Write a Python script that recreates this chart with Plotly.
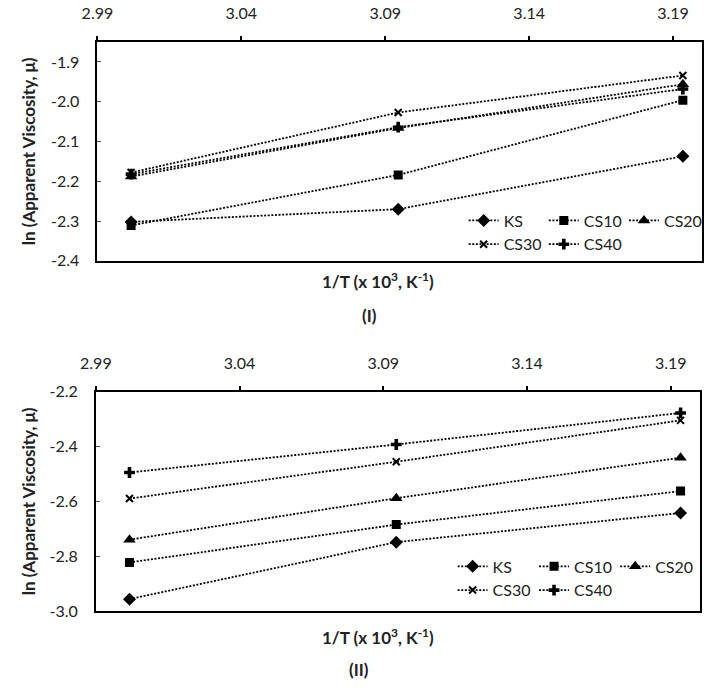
import plotly.graph_objects as go

# ---- data ----
x_vals = [3.0017, 3.0945, 3.1934]          # 1/T (x10^3, K^-1)
series_names = ["KS", "CS10", "CS20", "CS30", "CS40"]

# Panel (I)
p1_KS   = [-2.302, -2.270, -2.137]
p1_CS10 = [-2.311, -2.184, -1.996]
p1_CS20 = [-2.188, -2.066, -1.956]
p1_CS30 = [-2.178, -2.027, -1.934]
p1_CS40 = [-2.182, -2.064, -1.968]

# Panel (II)
p2_KS   = [-2.956, -2.748, -2.642]
p2_CS10 = [-2.822, -2.684, -2.562]
p2_CS20 = [-2.739, -2.588, -2.440]
p2_CS30 = [-2.589, -2.455, -2.304]
p2_CS40 = [-2.494, -2.392, -2.277]

x_ticks = [2.99, 3.04, 3.09, 3.14, 3.19]
x_ticktext = ["2.99", "3.04", "3.09", "3.14", "3.19"]
y1_ticks = [-2.4, -2.3, -2.2, -2.1, -2.0, -1.9]
y1_ticktext = ["-2.4", "-2.3", "-2.2", "-2.1", "-2.0", "-1.9"]
y2_ticks = [-3.0, -2.8, -2.6, -2.4, -2.2]
y2_ticktext = ["-3.0", "-2.8", "-2.6", "-2.4", "-2.2"]

W, H = 709, 688
FONT = "Lato"

symbols = {
    "KS": dict(symbol="diamond", size=10),
    "CS10": dict(symbol="square", size=9),
    "CS20": dict(symbol="triangle-up", size=11),
    "CS30": dict(symbol="x-thin", size=7, line=dict(width=2, color="black")),
    "CS40": dict(symbol="cross", size=9),
}

# legend column of each series (Excel-like 3-column layout)
col_of = {"KS": 0, "CS30": 0, "CS10": 1, "CS40": 1, "CS20": 2}
top_legends = ["legend", "legend2", "legend3"]
bot_legends = ["legend4", "legend5", "legend6"]

fig = go.Figure()

panel1 = [p1_KS, p1_CS10, p1_CS20, p1_CS30, p1_CS40]
panel2 = [p2_KS, p2_CS10, p2_CS20, p2_CS30, p2_CS40]

for name, ys in zip(series_names, panel1):
    fig.add_trace(go.Scatter(
        x=x_vals, y=ys, name=name, mode="lines+markers",
        line=dict(color="black", width=1.8, dash="2px,1.6px"),
        marker=dict(color="black", **symbols[name]),
        xaxis="x", yaxis="y", legend=top_legends[col_of[name]],
    ))
for name, ys in zip(series_names, panel2):
    fig.add_trace(go.Scatter(
        x=x_vals, y=ys, name=name, mode="lines+markers",
        line=dict(color="black", width=1.8, dash="2px,1.6px"),
        marker=dict(color="black", **symbols[name]),
        xaxis="x2", yaxis="y2", legend=bot_legends[col_of[name]],
    ))

def px_x(p):
    return p / W

def px_y(p):
    return 1 - p / H

common_x = dict(
    side="top", range=[2.99, 3.20], tickvals=x_ticks, ticktext=x_ticktext,
    ticks="outside", ticklen=4, tickwidth=1.5, tickcolor="black",
    showline=True, linewidth=1.8, linecolor="black", mirror=True,
    showgrid=False, zeroline=False, ticklabelstandoff=11,
    tickfont=dict(family=FONT, size=16, color="#222"),
)
common_y = dict(
    ticks="inside", ticklen=4, tickwidth=1.2, tickcolor="#555",
    showline=True, linewidth=1.8, linecolor="black", mirror=True,
    showgrid=False, zeroline=False, ticklabelstandoff=13,
    tickfont=dict(family=FONT, size=16, color="#222"),
)

legend_common = dict(
    orientation="v", xanchor="left", yanchor="top",
    bgcolor="rgba(0,0,0,0)", borderwidth=0,
    font=dict(family=FONT, size=16, color="#222"),
    traceorder="normal", tracegroupgap=0,
)

top_cols = [458, 540, 622]
bot_cols = [446.7, 530, 613]
legend_layout = {}
for ln, cx in zip(top_legends, top_cols):
    legend_layout[ln] = dict(x=px_x(cx), y=px_y(199), **legend_common)
for ln, cx in zip(bot_legends, bot_cols):
    legend_layout[ln] = dict(x=px_x(cx), y=px_y(554.7), **legend_common)

fig.update_layout(
    width=W, height=H,
    margin=dict(l=0, r=0, t=0, b=0),
    paper_bgcolor="white", plot_bgcolor="white",
    font=dict(family=FONT, color="#222"),
    xaxis=dict(domain=[px_x(83.3), px_x(701.7)], anchor="y", **common_x),
    yaxis=dict(domain=[px_y(258), px_y(33)], anchor="x", range=[-2.4, -1.85],
               tickvals=y1_ticks, ticktext=y1_ticktext, **common_y),
    xaxis2=dict(domain=[px_x(81.7), px_x(699.3)], anchor="y2", **common_x),
    yaxis2=dict(domain=[px_y(618.3), px_y(392.7)], anchor="x2", range=[-3.0, -2.2],
                tickvals=y2_ticks, ticktext=y2_ticktext, **common_y),
    showlegend=True,
    **legend_layout,
)

ytitle = "ln (Apparent Viscosity, μ)"
xtitle = "1/T (x 10<sup>3</sup>, K<sup>-1</sup>)"
ann_font = dict(family=FONT, size=17, color="#222")
annotations = [
    dict(text="<b>" + ytitle + "</b>", x=px_x(13), y=px_y(145.5), textangle=-90),
    dict(text="<b>" + ytitle + "</b>", x=px_x(13), y=px_y(505.5), textangle=-90),
    dict(text="<b>" + xtitle + "</b>", x=px_x(370), y=px_y(278)),
    dict(text="<b>(I)</b>", x=px_x(362), y=px_y(314)),
    dict(text="<b>" + xtitle + "</b>", x=px_x(370), y=px_y(644)),
    dict(text="<b>(II)</b>", x=px_x(351), y=px_y(678)),
]
for a in annotations:
    fig.add_annotation(xref="paper", yref="paper", showarrow=False,
                       xanchor="center", yanchor="middle", font=ann_font, **a)

fig.write_html(
    "out.html",
    config={"displayModeBar": False},
    post_script="document.body.style.margin='0';document.body.style.overflow='hidden';",
)
